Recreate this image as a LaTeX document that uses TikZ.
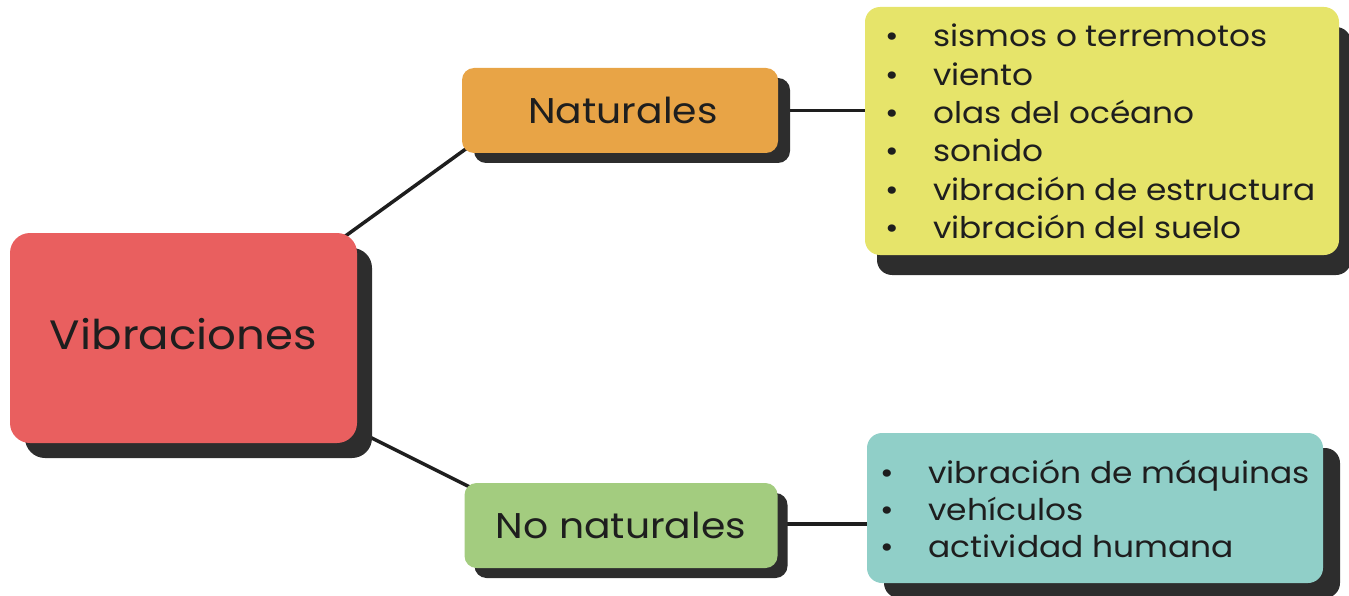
\documentclass[tikz,border=0pt]{standalone}
\usepackage{fontspec}
\setmainfont{Poppins}[FakeStretch=1.1]
\usetikzlibrary{shadows}
\definecolor{cred}{HTML}{E95F5F}
\definecolor{corange}{HTML}{E8A446}
\definecolor{cgreen}{HTML}{A3CC7F}
\definecolor{cyellow}{HTML}{E6E46A}
\definecolor{cteal}{HTML}{90CFC8}
\definecolor{cshadow}{HTML}{2D2D2D}
\definecolor{ctext}{HTML}{1E1E1E}
\begin{document}
\begin{tikzpicture}[x=1pt,y=-1pt,
  box/.style={rectangle, inner sep=0pt, text=ctext},
  conn/.style={draw=ctext, line width=3.5pt},
  listtext/.style={inner sep=0pt, text=ctext, font=\fontsize{29.8}{38.3}\selectfont},
]
\useasboundingbox (0,0) rectangle (1349,596);
% boxes (invisible first pass for coordinates)
\path
  node[box, minimum width=347pt, minimum height=210pt] (vibc) at (183.5,338) {}
  node[box, minimum width=316pt, minimum height=85pt] (natc) at (620,110.5) {}
  node[box, minimum width=313pt, minimum height=85pt] (nonc) at (621,525.5) {}
  node[box, minimum width=474pt, minimum height=248pt] (ylwc) at (1102,131) {}
  node[box, minimum width=456pt, minimum height=150pt] (tealc) at (1095,508) {};
% connectors
\draw[conn] ([xshift=-17pt,yshift=-7pt]vibc.north east) -- ([xshift=5pt,yshift=5pt]natc.south west);
\draw[conn] ([xshift=13pt,yshift=6pt]vibc.south east) -- ([xshift=5pt,yshift=-4pt]nonc.north west);
\draw[conn] (natc.east) -- (natc.east -| ylwc.west);
\draw[conn] ([yshift=1.5pt]nonc.east) -- ([yshift=1.5pt]nonc.east -| tealc.west);
% visible boxes
\node[box, fill=cred, rounded corners=20pt, minimum width=347pt, minimum height=210pt,
  general shadow={fill=cshadow, shadow xshift=15pt, shadow yshift=-15pt},
  text depth=8pt, font=\fontsize{41}{48}\selectfont] (vib) at (183.5,338) {Vibraciones};
\node[box, fill=corange, rounded corners=12pt, minimum width=316pt, minimum height=85pt,
  general shadow={fill=cshadow, shadow xshift=12pt, shadow yshift=-10pt},
  font=\fontsize{35.7}{40}\selectfont] (nat) at (620,110.5) {\hspace{6pt}Naturales};
\node[box, fill=cgreen, rounded corners=12pt, minimum width=313pt, minimum height=85pt,
  general shadow={fill=cshadow, shadow xshift=10pt, shadow yshift=-10pt},
  font=\fontsize{35.7}{40}\selectfont] (non) at (621,525.5) {No naturales};
\node[box, fill=cyellow, rounded corners=15pt, minimum width=474pt, minimum height=248pt,
  general shadow={fill=cshadow, shadow xshift=12pt, shadow yshift=-20pt}] (ylw) at (1102,131) {};
\node[box, fill=cteal, rounded corners=15pt, minimum width=456pt, minimum height=150pt,
  general shadow={fill=cshadow, shadow xshift=17pt, shadow yshift=-15pt}] (teal) at (1095,508) {};
% lists
\node[listtext, anchor=base west] (natlist) at (885,47) {%
  \begin{tabular}[t]{@{}l@{}}
  \makebox[48pt][l]{•}sismos o terremotos\\
  \makebox[48pt][l]{•}viento\\
  \makebox[48pt][l]{•}olas del océano\\
  \makebox[48pt][l]{•}sonido\\
  \makebox[48pt][l]{•}vibración de estructura\\
  \makebox[48pt][l]{•}vibración del suelo
  \end{tabular}};
\node[listtext, anchor=base west, font=\fontsize{29.9}{37}\selectfont] (nonlist) at (880,483) {%
  \begin{tabular}[t]{@{}l@{}}
  \makebox[48pt][l]{•}vibración de máquinas\\
  \makebox[48pt][l]{•}vehículos\\
  \makebox[48pt][l]{•}actividad humana
  \end{tabular}};
\end{tikzpicture}
\end{document}
